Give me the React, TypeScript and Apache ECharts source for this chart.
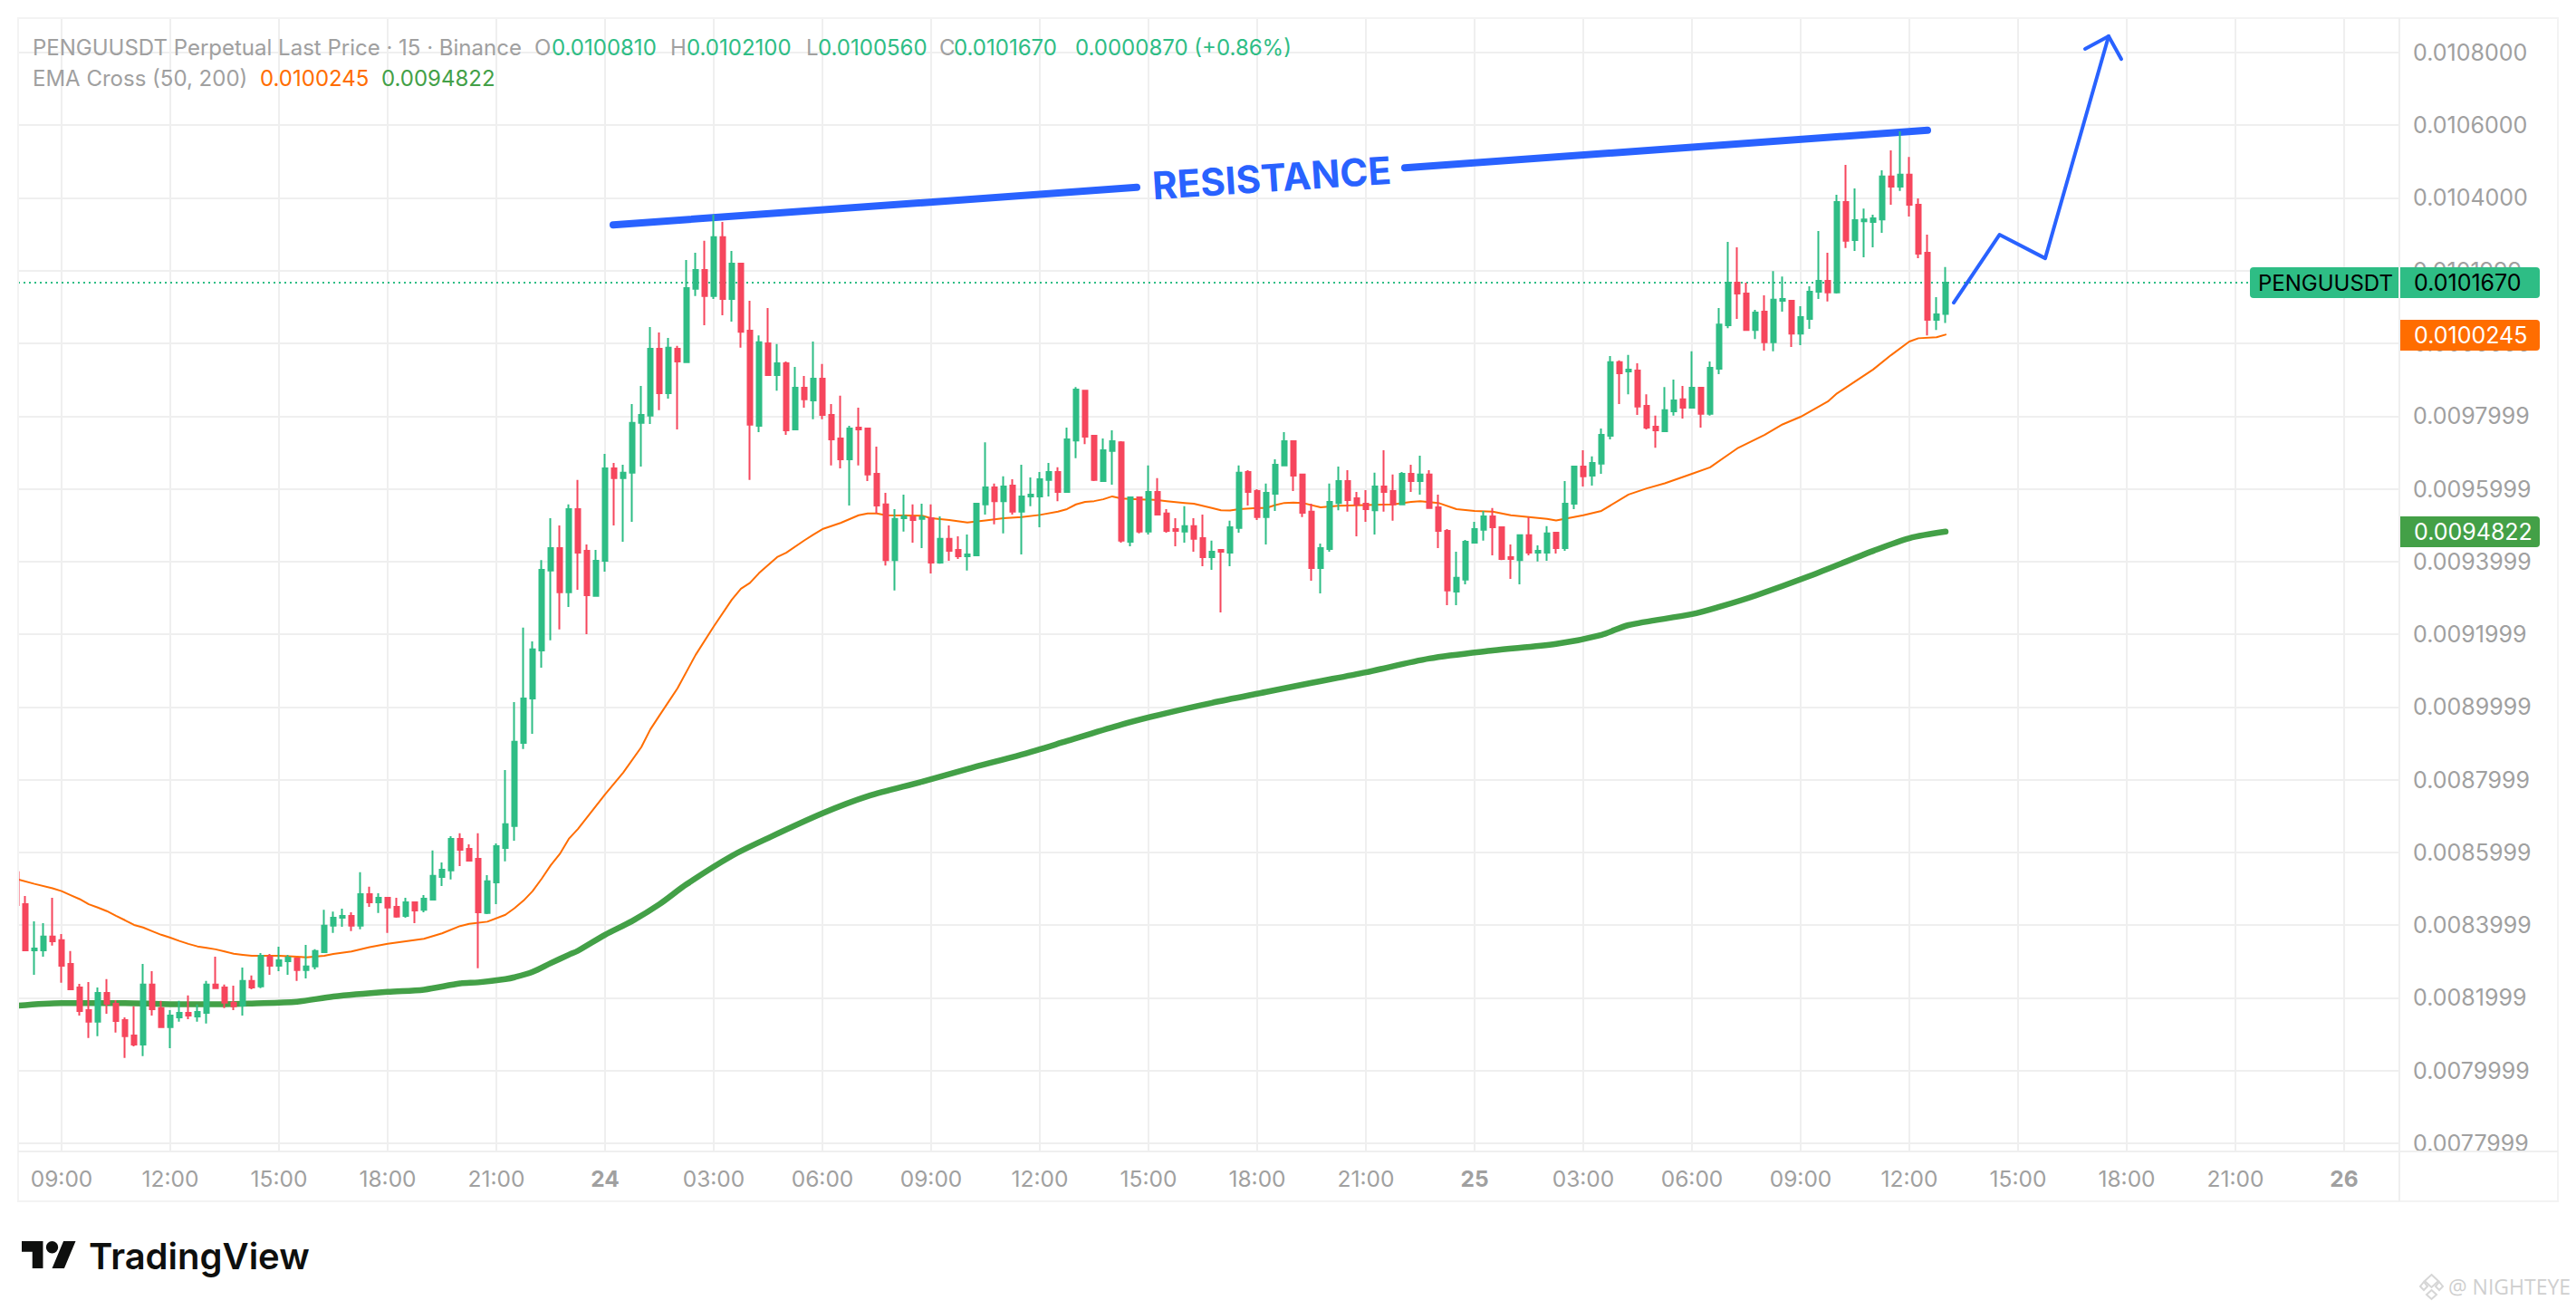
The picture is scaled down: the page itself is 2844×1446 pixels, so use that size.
import React, { useEffect, useRef } from "react";
import * as echarts from "echarts";

// Prices are read in millionths of a USDT; bars are 15-minute bars counted from 09:00 of the first full hour.
const PRICE_UNIT = 1e-6;
const FIRST_BAR = -5;

const opens = [
  8545,8457,8330,8330,8368,8358,8293,8228,8166,8134,
  8213,8183,8138,8096,8071,8236,8171,8119,8146,8158,
  8148,8158,8236,8228,8186,8178,8246,8231,8313,8288,
  8300,8308,8276,8286,8325,8398,8420,8425,8398,8485,
  8462,8475,8450,8425,8462,8442,8470,8532,8550,8637,
  8609,8582,8433,8517,8612,8672,8901,9023,9155,9375,
  9437,9315,9544,9429,9305,9402,9656,9629,9644,9781,
  9801,9985,9863,9985,9948,10150,10202,10130,10292,10122,
  10219,10035,9773,10000,9913,9945,9763,9878,9843,9903,
  9803,9738,9681,9768,9766,9641,9557,9404,9519,9522,
  9517,9519,9397,9462,9432,9414,9417,9557,9604,9566,
  9609,9537,9579,9579,9624,9646,9591,9733,9870,9746,
  9621,9704,9728,9454,9576,9482,9591,9532,9489,9482,
  9497,9464,9412,9432,9424,9492,9646,9594,9522,9586,
  9664,9731,9639,9537,9382,9434,9561,9621,9574,9559,
  9541,9606,9594,9557,9641,9621,9639,9549,9484,9317,
  9350,9452,9487,9524,9494,9412,9404,9472,9424,9424,
  9479,9437,9559,9661,9636,9669,9746,9948,9923,9925,
  9828,9771,9758,9813,9846,9823,9878,9806,9930,10050,
  10167,10137,10037,10087,10003,10117,10117,10027,10067,10142,
  10172,10140,10389,10284,10336,10334,10341,10459,10431,10464,
  10381,10249,10065,10081,
];
const closes = [
  8455,8330,8335,8368,8355,8288,8223,8163,8134,8213,
  8183,8136,8094,8071,8236,8168,8119,8151,8158,8151,
  8161,8236,8226,8186,8176,8246,8228,8315,8288,8303,
  8310,8276,8286,8328,8398,8420,8425,8398,8485,8462,
  8475,8448,8423,8462,8440,8472,8535,8552,8637,8607,
  8577,8435,8520,8617,8677,8904,9023,9158,9377,9437,
  9315,9544,9424,9307,9402,9656,9629,9644,9781,9803,
  9985,9863,9988,9950,10152,10202,10130,10292,10122,10219,
  10032,9776,10003,9913,9945,9761,9878,9846,9903,9803,
  9736,9681,9766,9763,9639,9554,9404,9517,9524,9514,
  9522,9397,9462,9429,9414,9419,9559,9604,9566,9606,
  9537,9579,9584,9626,9646,9591,9736,9873,9743,9624,
  9706,9731,9457,9576,9482,9591,9529,9484,9484,9497,
  9462,9412,9427,9427,9494,9644,9591,9522,9589,9666,
  9731,9636,9534,9382,9437,9564,9621,9569,9557,9544,
  9606,9591,9557,9641,9621,9639,9547,9484,9320,9355,
  9454,9489,9524,9494,9407,9407,9472,9424,9429,9477,
  9437,9559,9661,9634,9671,9748,9948,9918,9928,9826,
  9768,9761,9816,9843,9823,9878,9806,9933,10052,10167,
  10137,10037,10085,10003,10120,10122,10027,10072,10142,10172,
  10140,10389,10282,10339,10341,10344,10459,10431,10464,10381,
  10247,10065,10080,10167,
];
const lows = [
  8443,8330,8263,8313,8343,8241,8223,8151,8089,8094,
  8156,8104,8034,8066,8039,8151,8119,8061,8134,8141,
  8134,8129,8226,8171,8166,8151,8223,8226,8263,8273,
  8263,8246,8253,8278,8325,8378,8395,8383,8388,8450,
  8433,8378,8420,8420,8405,8435,8470,8507,8525,8562,
  8575,8281,8430,8457,8575,8632,8884,8926,9108,9183,
  9213,9275,9322,9200,9305,9372,9499,9454,9509,9661,
  9778,9816,9848,9763,9948,10130,10050,10122,10077,10060,
  9988,9624,9756,9910,9870,9748,9763,9823,9791,9791,
  9664,9656,9554,9664,9621,9532,9389,9320,9482,9452,
  9437,9367,9394,9402,9407,9375,9417,9529,9502,9477,
  9529,9419,9552,9494,9579,9566,9589,9684,9723,9621,
  9621,9611,9452,9442,9477,9474,9529,9479,9442,9452,
  9427,9387,9377,9260,9387,9479,9554,9514,9447,9539,
  9664,9594,9522,9347,9312,9427,9541,9537,9469,9509,
  9474,9537,9512,9557,9591,9584,9547,9437,9280,9280,
  9337,9452,9457,9417,9404,9352,9337,9417,9400,9402,
  9422,9429,9544,9606,9609,9641,9736,9833,9860,9803,
  9763,9713,9756,9801,9793,9821,9768,9801,9915,10042,
  10067,10035,10012,9980,9978,10087,9990,9995,10040,10122,
  10115,10137,10262,10254,10237,10264,10304,10381,10419,10349,
  10234,10022,10037,10056,
];
const highs = [
  8557,8480,8410,8405,8475,8375,8328,8238,8243,8228,
  8251,8193,8146,8176,8293,8273,8191,8166,8191,8206,
  8181,8246,8313,8236,8233,8283,8261,8323,8320,8340,
  8318,8308,8345,8333,8442,8437,8445,8435,8545,8505,
  8487,8477,8475,8475,8462,8482,8605,8572,8644,8652,
  8622,8652,8537,8624,8826,9013,9218,9180,9404,9519,
  9499,9557,9624,9447,9432,9696,9671,9666,9833,9883,
  10045,10030,10015,9993,10229,10249,10282,10354,10334,10254,
  10222,10117,10022,10097,9998,9950,9935,9910,10005,9943,
  9833,9856,9773,9823,9766,9716,9589,9544,9584,9557,
  9559,9557,9524,9499,9469,9474,9561,9728,9614,9634,
  9626,9666,9631,9646,9671,9659,9768,9880,9870,9746,
  9738,9761,9731,9579,9576,9664,9629,9544,9519,9552,
  9519,9529,9457,9432,9512,9664,9651,9599,9614,9681,
  9756,9731,9641,9559,9449,9614,9661,9651,9591,9596,
  9644,9706,9639,9646,9666,9691,9651,9584,9489,9427,
  9459,9509,9539,9547,9494,9447,9474,9522,9444,9497,
  9479,9621,9661,9706,9689,9766,9965,9953,9968,9945,
  9860,9801,9880,9900,9883,9978,9878,9950,10097,10279,
  10264,10167,10092,10132,10199,10184,10117,10102,10157,10309,
  10249,10409,10491,10426,10371,10354,10476,10531,10583,10513,
  10399,10299,10127,10210,
];

const ema50Bars = [
  -4.8,-3,-1,0,1,2,3,4,5,6,7,8,9,10,11,12,13,14,15,16,17,18,19,20,21,22,23,24,25,26,27,29,30,32,34,36,38,40,42,44,45,47,49,
  50,51,52,53,54,55,56,57,60,62,64,65,66,68,70,72,74,75,76,77,79,80,82,83,84,86,88,89,90,91,95,96,98,100,102,104,106,108,110,
  111,112,113,114,115,116,117,119,121,122,124,125,127,128,129,130,132,133,134,135,136,137,139,141,144,147,149,150,152,154,156,
  158,160,162,164,165,168,170,173,175,177,180,182,185,188,190,192,195,196,200,202,204,205,207,208,
];
const ema50 = [
  8525,8513,8501,8493,8482,8471,8457,8448,8438,8425,8413,8400,8393,8383,8373,8365,8356,8348,8341,8337,8333,8327,8321,8318,8315,8315,8315,8315,8314,8313,8311,8315,8320,8327,8339,8348,8355,8362,8377,8397,8403,8409,8428,
  8446,8467,8493,8527,8564,8595,8637,8664,8759,8819,8889,8938,8976,9051,9143,9221,9295,9325,9341,9368,9412,9424,9458,9474,9489,9506,9527,9532,9532,9527,9526,9519,9514,9507,9513,9519,9522,9528,9537,
  9544,9557,9564,9566,9571,9579,9573,9571,9569,9566,9561,9559,9547,9541,9540,9544,9547,9547,9555,9561,9562,9561,9549,9553,9555,9557,9564,9566,9561,9544,9539,
  9537,9527,9522,9517,9513,9527,9539,9584,9601,9615,9641,9659,9711,9748,9777,9798,9840,9862,9928,9968,10005,10014,10017,10024,
];
const ema200Bars = [
  -4.8,0,7,12,18,21,26,30,36,40,44,46,49,50,52,54,56,57,60,63,66,69,74,78,84,89,95,100,106,111,117,122,127,133,138,144,151,158,165,170,173,180,183,187,193,200,204,208,
];
const ema200 = [
  8178,8185,8185,8182,8182,8184,8189,8203,8216,8222,8239,8242,8251,8256,8271,8295,8318,8329,8373,8411,8457,8512,8590,8639,8707,8754,8794,8829,8869,8906,8951,8983,9011,9041,9066,9095,9133,9155,9173,9198,9225,9255,9275,9306,9360,9429,9464,9482,
];

const lastPrice = 10167;
const resistanceLeftBars = [60.9, 118.7];
const resistanceLeft = [10326, 10429];
const resistanceRightBars = [148.3, 206];
const resistanceRight = [10483, 10586];
const projectionBars = [208.9, 213.95, 219, 226];
const projection = [10112, 10299, 10234, 10845];
const arrowHeadBars = [223.4, 226, 227.4];
const arrowHead = [10810, 10845, 10782];

const priceTicks = [
  0.0108, 0.0106, 0.0104, 0.0101999, 0.0099999, 0.0097999, 0.0095999, 0.0093999, 0.0091999,
  0.0089999, 0.0087999, 0.0085999, 0.0083999, 0.0081999, 0.0079999, 0.0077999,
];
const timeLabels = [
  "09:00","12:00","15:00","18:00","21:00","24","03:00","06:00","09:00","12:00","15:00","18:00","21:00","25",
  "03:00","06:00","09:00","12:00","15:00","18:00","21:00","26",
];
const dayLabels = ["24", "25", "26"];
const BARS_PER_LABEL = 12;

const GREEN = "#2EBD85";
const RED = "#F6465D";
const ORANGE = "#FF6D00";
const DARK_GREEN = "#43A047";
const BLUE = "#2962FF";
const GRID = "#EFEFEF";
const FRAME = "#F3F3F3";
const MUTED = "#A0A0A0";
const FONT = "Inter";

const pts = (bars: number[], vals: number[]) => bars.map((b, i) => [b, vals[i] * PRICE_UNIT]);

echarts.graphic.registerShape(
  "tvLogo",
  echarts.graphic.extendPath(
    "M14 22H7V11H0V4h14v18zM28 22h-8l7.5-18h8L28 22zM24 8a4 4 0 1 1-8 0 4 4 0 0 1 8 0z",
    {},
  ),
);

const txt = (text: string, x: number, y: number, fill: string, font: string, extra: any = {}) => ({
  type: "text",
  x,
  y,
  z: 100,
  silent: true,
  style: { text, fill, font, textAlign: "left", textVerticalAlign: "middle" },
  ...extra,
});

const plainLine = (bars: number[], vals: number[], color: string, width: number, z: number, smooth: any = false) => ({
  type: "line",
  data: pts(bars, vals),
  showSymbol: false,
  silent: true,
  z,
  smooth,
  lineStyle: { color, width, cap: "round", join: "round" },
});

export default function App() {
  const ref = useRef<HTMLDivElement | null>(null);

  useEffect(() => {
    document.body.style.margin = "0";
    document.body.style.background = "#fff";
    const chart = echarts.init(ref.current!, undefined, { renderer: "svg" });
    const candles = opens.map((o, i) => [
      FIRST_BAR + i,
      o * PRICE_UNIT,
      closes[i] * PRICE_UNIT,
      lows[i] * PRICE_UNIT,
      highs[i] * PRICE_UNIT,
    ]);
    const legendFont = `24px ${FONT}`;
    const badgeFont = `25px ${FONT}`;

    chart.setOption({
      animation: false,
      backgroundColor: "#fff",
      tooltip: { show: false },
      grid: {
        left: 20,
        top: 20,
        width: 2629,
        height: 1251,
        containLabel: false,
        outerBoundsMode: "none",
        show: false,
      },
      xAxis: {
        type: "value",
        min: -4.8,
        max: 258.1,
        axisLine: { show: false },
        axisTick: { show: false, customValues: timeLabels.map((_, i) => i * BARS_PER_LABEL) },
        splitLine: { show: true, lineStyle: { color: GRID, width: 2 } },
        axisLabel: {
          customValues: timeLabels.map((_, i) => i * BARS_PER_LABEL),
          margin: 17,
          color: MUTED,
          fontSize: 24.5,
          fontFamily: FONT,
          formatter: (v: number) => {
            const l = timeLabels[Math.round(v / BARS_PER_LABEL)];
            return dayLabels.includes(l) ? `{b|${l}}` : l;
          },
          rich: { b: { fontWeight: 700, color: MUTED, fontSize: 24.5, fontFamily: FONT } },
        },
      },
      yAxis: {
        type: "value",
        position: "right",
        min: 0.0077769,
        max: 0.0108947,
        axisLine: { show: false },
        axisTick: { show: false, customValues: priceTicks },
        splitLine: { show: true, lineStyle: { color: GRID, width: 2 } },
        axisLabel: {
          customValues: priceTicks,
          margin: 15,
          color: MUTED,
          fontSize: 25,
          fontFamily: FONT,
          formatter: (v: number) => v.toFixed(7),
        },
      },
      series: [
        {
          type: "line",
          data: pts([-4.8, 258.1], [lastPrice, lastPrice]),
          showSymbol: false,
          silent: true,
          z: 1,
          lineStyle: { color: GREEN, width: 2, type: [2, 4] },
        },
        plainLine(ema200Bars, ema200, DARK_GREEN, 6.5, 2, 0.3),
        plainLine(ema50Bars, ema50, ORANGE, 2, 3),
        plainLine(resistanceLeftBars, resistanceLeft, BLUE, 8, 3),
        plainLine(resistanceRightBars, resistanceRight, BLUE, 8, 3),
        plainLine(projectionBars, projection, BLUE, 4, 3),
        plainLine(arrowHeadBars, arrowHead, BLUE, 4, 3),
        {
          type: "candlestick",
          data: candles,
          encode: { x: 0, y: [1, 2, 3, 4] },
          barWidth: 6,
          clip: true,
          silent: true,
          z: 5,
          itemStyle: {
            color: GREEN,
            color0: RED,
            borderColor: GREEN,
            borderColor0: RED,
            borderWidth: 2,
          },
        },
      ],
      graphic: {
        elements: [
          { type: "rect", z: 50, silent: true, shape: { x: 0, y: 0, width: 20, height: 1326 }, style: { fill: "#fff" } },
          { type: "rect", z: 60, silent: true, shape: { x: 20, y: 20, width: 2804, height: 1306 }, style: { fill: "none", stroke: FRAME, lineWidth: 2 } },
          { type: "line", z: 60, silent: true, shape: { x1: 2649, y1: 20, x2: 2649, y2: 1326 }, style: { stroke: GRID, lineWidth: 2 } },
          { type: "line", z: 60, silent: true, shape: { x1: 20, y1: 1271, x2: 2824, y2: 1271 }, style: { stroke: GRID, lineWidth: 2 } },

          txt("PENGUUSDT Perpetual Last Price · 15 · Binance", 36, 52, MUTED, legendFont),
          txt("O", 590, 52, MUTED, legendFont),
          txt("0.0100810", 609, 52, GREEN, legendFont),
          txt("H", 740, 52, MUTED, legendFont),
          txt("0.0102100", 758, 52, GREEN, legendFont),
          txt("L", 890, 52, MUTED, legendFont),
          txt("0.0100560", 903, 52, GREEN, legendFont),
          txt("C", 1037, 52, MUTED, legendFont),
          txt("0.0101670", 1053, 52, GREEN, legendFont),
          txt("0.0000870 (+0.86%)", 1187, 52, GREEN, legendFont),
          txt("EMA Cross (50, 200)", 36, 86, MUTED, legendFont),
          txt("0.0100245", 287, 86, ORANGE, legendFont),
          txt("0.0094822", 421, 86, DARK_GREEN, legendFont),

          { type: "rect", z: 95, silent: true, shape: { x: 2484, y: 295, width: 164, height: 34, r: [4, 0, 0, 4] }, style: { fill: GREEN } },
          { type: "rect", z: 95, silent: true, shape: { x: 2650, y: 295, width: 154, height: 34, r: [0, 4, 4, 0] }, style: { fill: GREEN } },
          { type: "rect", z: 95, silent: true, shape: { x: 2650, y: 353, width: 154, height: 34, r: [0, 4, 4, 0] }, style: { fill: ORANGE } },
          { type: "rect", z: 95, silent: true, shape: { x: 2650, y: 570, width: 154, height: 34, r: [0, 4, 4, 0] }, style: { fill: DARK_GREEN } },
          txt("PENGUUSDT", 2493, 312, "#000", `24px ${FONT}`),
          txt("0.0101670", 2665, 312, "#000", badgeFont),
          txt("0.0100245", 2665, 370, "#fff", badgeFont),
          txt("0.0094822", 2665, 587, "#fff", badgeFont),

          {
            type: "text",
            x: 1404,
            y: 196,
            z: 100,
            silent: true,
            rotation: 0.066,
            style: { text: "RESISTANCE", fill: BLUE, font: `700 42px ${FONT}`, textAlign: "center", textVerticalAlign: "middle" },
          },

          { type: "tvLogo", x: 24, y: 1363.4, scaleX: 1.676, scaleY: 1.667, z: 100, silent: true, style: { fill: "#0E0F0E" } },
          txt("TradingView", 98, 1386, "#0E0F0E", `600 40px ${FONT}`),

          { type: "polygon", z: 100, silent: true, shape: { points: [[2684.5, 1407], [2692, 1414], [2684.5, 1421], [2677, 1414]] }, style: { fill: "none", stroke: "#D6D6D6", lineWidth: 2 } },
          { type: "polygon", z: 100, silent: true, shape: { points: [[2676, 1415], [2680, 1420], [2676, 1424], [2672, 1420]] }, style: { fill: "none", stroke: "#D6D6D6", lineWidth: 2 } },
          { type: "polygon", z: 100, silent: true, shape: { points: [[2693, 1415], [2697, 1420], [2693, 1424], [2689, 1420]] }, style: { fill: "none", stroke: "#D6D6D6", lineWidth: 2 } },
          { type: "polygon", z: 100, silent: true, shape: { points: [[2684.5, 1424], [2690, 1429], [2684.5, 1434], [2679, 1429]] }, style: { fill: "none", stroke: "#D6D6D6", lineWidth: 2 } },
          txt("@ NIGHTEYE", 2703, 1420, "#CFCFCF", `23px "Open Sans"`),
        ],
      },
    });
    return () => chart.dispose();
  }, []);

  return <div ref={ref} style={{ width: 2844, height: 1446 }} />;
}
